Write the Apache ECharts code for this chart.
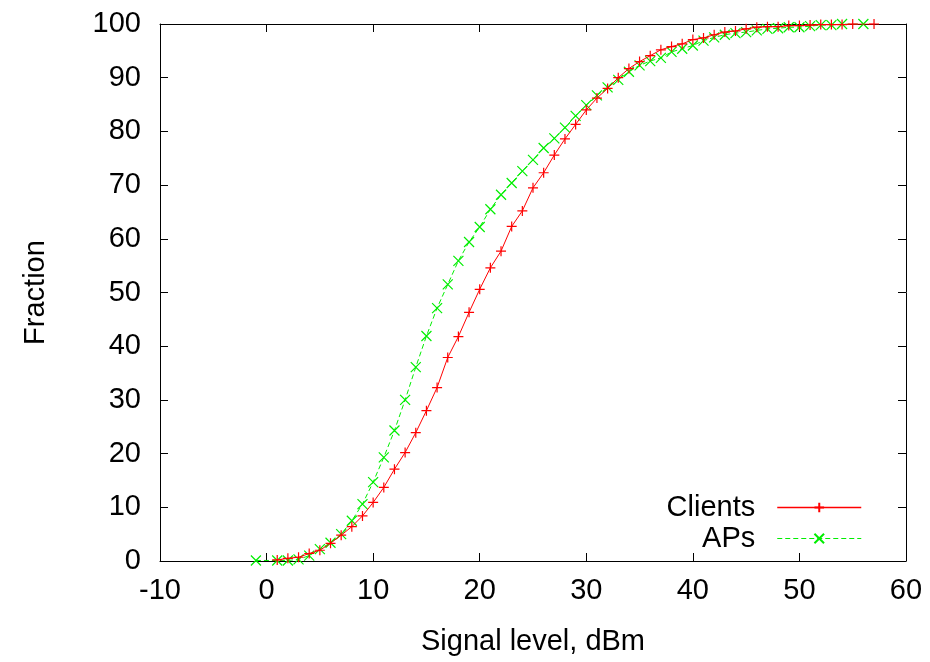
<!DOCTYPE html>
<html>
<head>
<meta charset="utf-8">
<script src="https://cdn.jsdelivr.net/npm/echarts@6/dist/echarts.min.js"></script>
<style>
    html, body { margin: 0; padding: 0; background: #fff; }
    #main { width: 930px; height: 662px; }
</style>
</head>
<body>
<div id="main"></div>
<script>
// signal level (dBm) and cumulative fraction (%)
const clientsX = [1, 2, 3, 4, 5, 6, 7, 8, 9, 10, 11, 12, 13, 14, 15, 16, 17, 18, 19, 20,
    21, 22, 23, 24, 25, 26, 27, 28, 29, 30, 31, 32, 33, 34, 35, 36, 37, 38, 39, 40,
    41, 42, 43, 44, 45, 46, 47, 48, 49, 50, 51, 52, 53, 54, 55, 57];
const clientsY = [0.2, 0.5, 0.7, 1.4, 2.0, 3.3, 4.8, 6.4, 8.4, 10.9, 13.7, 17.1, 20.2, 23.9, 28.0, 32.3, 37.9, 41.8, 46.3, 50.6,
    54.6, 57.7, 62.3, 65.2, 69.5, 72.3, 75.6, 78.6, 81.3, 84.0, 86.2, 88.0, 90.0, 91.7, 93.0, 94.1, 95.2, 95.8, 96.3, 97.1,
    97.4, 98.0, 98.5, 98.7, 99.1, 99.4, 99.5, 99.5, 99.7, 99.7, 99.8, 99.9, 99.9, 99.9, 100, 100];

const apsX = [-1, 1, 2, 3, 4, 5, 6, 7, 8, 9, 10, 11, 12, 13, 14, 15, 16, 17, 18, 19, 20,
    21, 22, 23, 24, 25, 26, 27, 28, 29, 30, 31, 32, 33, 34, 35, 36, 37, 38, 39, 40,
    41, 42, 43, 44, 45, 46, 47, 48, 49, 50, 51, 52, 53, 54, 56];
const apsY = [0.1, 0.1, 0.1, 0.3, 1.0, 2.2, 3.4, 5.0, 7.5, 10.6, 14.7, 19.3, 24.3, 30.0, 36.1, 41.9, 47.1, 51.5, 55.9, 59.4, 62.2,
    65.5, 68.2, 70.4, 72.6, 74.7, 76.9, 78.7, 80.7, 82.9, 84.9, 86.7, 88.2, 89.6, 91.1, 92.3, 93.1, 93.7, 94.8, 95.4, 96.0,
    96.9, 97.5, 98.0, 98.3, 98.5, 98.8, 99.1, 99.2, 99.4, 99.4, 99.6, 99.8, 99.8, 100, 100];

const seriesNames = ['Clients', 'APs'];
const RED = '#ff0000';
const GREEN = '#00ee00';

const FONT = 'Liberation Sans';
const FS = 29;

function pairs(xs, ys) {
    return xs.map(function (x, i) { return [x, ys[i]]; });
}

const tickIn = { show: true, inside: true, length: 8, lineStyle: { color: '#000', width: 1 } };
const axLine = { show: true, onZero: false, lineStyle: { color: '#000', width: 1 } };

const option = {
    animation: false,
    backgroundColor: '#fff',
    textStyle: { fontFamily: FONT },
    grid: { left: 160, right: 24, top: 24, bottom: 101 },
    legend: {
        orient: 'vertical',
        align: 'right',
        right: 63,
        top: 488,
        itemWidth: 84,
        itemHeight: 12,
        itemGap: 2,
        textStyle: { fontFamily: FONT, fontSize: FS, color: '#000', padding: [0, 17, 0, 0] },
        data: [
            { name: seriesNames[0], lineStyle: { color: RED, width: 1.5, opacity: 1 } },
            { name: seriesNames[1], lineStyle: { color: GREEN, width: 1.2, type: [5, 3], opacity: 1 } }
        ]
    },
    xAxis: [
        {
            type: 'value', min: -10, max: 60, interval: 10,
            name: 'Signal level, dBm', nameLocation: 'middle', nameGap: 66,
            nameTextStyle: { fontFamily: FONT, fontSize: FS, color: '#000' },
            axisLine: axLine, axisTick: tickIn, splitLine: { show: false },
            axisLabel: { fontFamily: FONT, fontSize: FS, color: '#000', margin: 15 }
        },
        {
            type: 'value', min: -10, max: 60, interval: 10, position: 'top',
            axisLine: axLine, axisTick: tickIn, splitLine: { show: false },
            axisLabel: { show: false }
        }
    ],
    yAxis: [
        {
            type: 'value', min: 0, max: 100, interval: 10,
            name: 'Fraction', nameLocation: 'middle', nameGap: 110,
            nameTextStyle: { fontFamily: FONT, fontSize: FS, color: '#000' },
            axisLine: axLine, axisTick: tickIn, splitLine: { show: false },
            axisLabel: { fontFamily: FONT, fontSize: FS, color: '#000', margin: 19 }
        },
        {
            type: 'value', min: 0, max: 100, interval: 10, position: 'right',
            axisLine: axLine, axisTick: tickIn, splitLine: { show: false },
            axisLabel: { show: false }
        }
    ],
    series: [
        {
            name: seriesNames[0],
            type: 'line',
            data: pairs(clientsX, clientsY),
            symbol: 'path://M0,5L10,5M5,0L5,10',
            symbolSize: 10,
            showAllSymbol: true,
            itemStyle: { color: RED, borderColor: RED, borderWidth: 1.2 },
            lineStyle: { color: RED, width: 1 },
            z: 3
        },
        {
            name: seriesNames[1],
            type: 'line',
            data: pairs(apsX, apsY),
            symbol: 'path://M0,0L10,10M0,10L10,0',
            symbolSize: 10,
            showAllSymbol: true,
            itemStyle: { color: GREEN, borderColor: GREEN, borderWidth: 1.2 },
            lineStyle: { color: GREEN, width: 1, type: [5, 3] },
            z: 2
        }
    ]
};

const chart = echarts.init(document.getElementById('main'), null, { renderer: 'canvas' });
chart.setOption(option);
</script>
</body>
</html>
